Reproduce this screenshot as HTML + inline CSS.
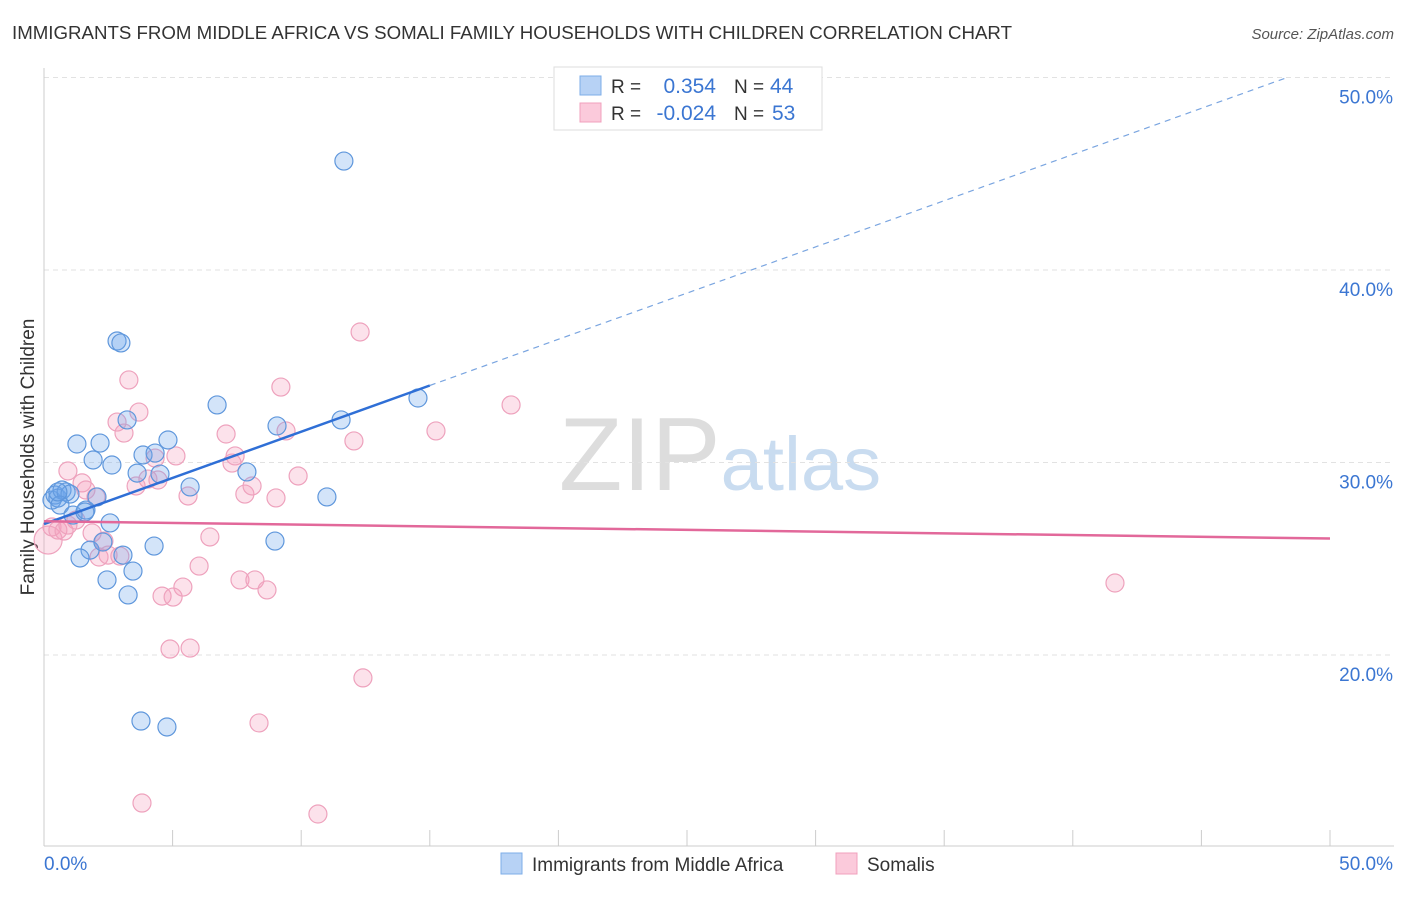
<!DOCTYPE html>
<html><head><meta charset="utf-8"><style>
body{margin:0;background:#fff;font-family:"Liberation Sans",sans-serif}
svg text{font-family:"Liberation Sans",sans-serif}
</style></head><body>
<svg id="chart" width="1406" height="892" viewBox="0 0 1406 892" xmlns="http://www.w3.org/2000/svg">
<text x="12" y="39" font-size="18" fill="#333" textLength="1000" lengthAdjust="spacingAndGlyphs">IMMIGRANTS FROM MIDDLE AFRICA VS SOMALI FAMILY HOUSEHOLDS WITH CHILDREN CORRELATION CHART</text>
<text x="1394" y="39" font-size="15" fill="#555" text-anchor="end" font-style="italic">Source: ZipAtlas.com</text>
<text x="720" y="490" font-size="104" fill="#ddd" text-anchor="middle" font-family="Liberation Serif">ZIP<tspan fill="#c9dcf0" font-family="Liberation Sans" font-size="76">atlas</tspan></text>
<text transform="translate(34,457) rotate(-90)" font-size="19" fill="#333" text-anchor="middle">Family Households with Children</text>
<g id="grid"></g><g id="axes"></g><g id="pts"></g><g id="trends"></g>
<g>
<rect x="554" y="67" width="268" height="63" fill="#fff" stroke="#ddd"/>
<rect x="580" y="76" width="21" height="19" fill="#b7d2f5" stroke="#7eaee8"/>
<rect x="580" y="103" width="21" height="19" fill="#fbcadb" stroke="#f0a0bd"/>
<text x="611" y="93" font-size="19" fill="#333">R =</text><text x="716" y="93" font-size="21" fill="#3b76d2" text-anchor="end">0.354</text>
<text x="734" y="93" font-size="19" fill="#333">N =</text><text x="770" y="93" font-size="21" fill="#3b76d2">44</text>
<text x="611" y="120" font-size="19" fill="#333">R =</text><text x="716" y="120" font-size="21" fill="#3b76d2" text-anchor="end">-0.024</text>
<text x="734" y="120" font-size="19" fill="#333">N =</text><text x="772" y="120" font-size="21" fill="#3b76d2">53</text>
</g>
<g>
<rect x="501" y="853" width="21" height="21" fill="#b7d2f5" stroke="#7eaee8"/>
<text x="532" y="871" font-size="19" fill="#333">Immigrants from Middle Africa</text>
<rect x="836" y="853" width="21" height="21" fill="#fbcadb" stroke="#f0a0bd"/>
<text x="867" y="871" font-size="19" fill="#333">Somalis</text>
</g>
</svg>
<script>
const yTicks=[20,30,40,50];
const yTickLabels=["20.0%","30.0%","40.0%","50.0%"];
const xTicks=[0,5,10,15,20,25,30,35,40,45,50];
const blueX=[0.31,0.43,0.54,0.70,0.86,1.01,0.62,1.13,1.63,1.28,1.91,2.18,2.64,2.84,2.99,3.23,3.62,3.85,4.32,4.51,4.82,5.68,6.73,7.89,9.06,11.55,14.54,11.0,8.98,4.28,2.57,1.79,1.40,2.29,3.07,2.45,3.46,3.27,3.77,4.78,11.66,2.06,0.54,1.59];
const blueY=[28.05,28.31,28.15,28.57,28.47,28.36,27.79,27.27,27.53,30.96,30.13,31.01,29.87,36.31,36.21,32.21,29.45,30.39,30.49,29.40,31.17,28.73,32.99,29.51,31.90,32.21,33.35,28.21,25.92,25.66,26.86,25.45,25.04,25.87,25.19,23.90,24.36,23.12,16.57,16.26,45.66,28.21,28.47,27.43];
const pinkX=[0.16,0.31,0.54,0.78,0.93,1.24,1.48,1.63,2.02,1.87,2.14,2.33,2.49,2.95,3.11,2.84,3.30,3.69,3.58,4.04,4.32,4.43,5.13,5.60,6.45,6.03,5.40,4.59,5.02,4.90,5.68,7.08,7.31,7.43,7.81,8.09,7.62,8.20,8.67,9.02,9.41,9.21,9.88,12.05,12.29,15.24,18.16,41.64,12.40,8.36,3.81,10.65,0.93];
const pinkY=[25.97,26.65,26.49,26.44,29.56,27.01,28.94,28.57,28.21,26.34,25.09,25.92,25.19,25.14,31.53,32.10,34.29,32.62,28.78,29.14,30.23,29.09,30.34,28.26,26.13,24.62,23.53,23.06,23.01,20.31,20.36,31.48,29.97,30.34,28.36,28.78,23.90,23.90,23.38,28.16,31.64,33.92,29.30,31.12,36.78,31.64,32.99,23.74,18.81,16.47,12.31,11.74,26.75];
const blueTrend=[26.8,0.48]; // intercept, slope
const pinkTrend=[26.95,-0.018];
const NS="http://www.w3.org/2000/svg";
const X=v=>44+v*25.72, Y=v=>77.5+(50-v)*19.25;
function mk(tag,attrs,parent){const e=document.createElementNS(NS,tag);for(const k in attrs)e.setAttribute(k,attrs[k]);parent.appendChild(e);return e;}
const grid=document.getElementById('grid'),axes=document.getElementById('axes');
yTicks.forEach((t,i)=>{
 const l=mk('line',{x1:44,x2:1394,y1:Y(t),y2:Y(t),stroke:'#e2e2e2','stroke-dasharray':'5,4'},grid);
 
 
 const tx=mk('text',{x:1393,y:Y(t)+26,'font-size':19,fill:'#3b76d2','text-anchor':'end'},axes);
 tx.textContent=yTickLabels[i];
 
 
});
const ya=mk('line',{x1:44,x2:44,y1:68,y2:846,stroke:'#ccc'},axes);


const xa=mk('line',{x1:44,x2:1394,y1:846,y2:846,stroke:'#ccc'},axes);


xTicks.forEach(t=>{
 const l=mk('line',{x1:X(t),x2:X(t),y1:830,y2:846,stroke:'#ccc'},axes);
 
 
});
[[0,'0.0%','start',44],[50,'50.0%','end',1393]].forEach(a=>{
 const tx=mk('text',{x:a[3],y:870,'font-size':19,fill:'#3b76d2','text-anchor':a[2]},axes);
 tx.textContent=a[1];
 
 
});
const pts=document.getElementById('pts');
pinkX.forEach((x,i)=>{
 const c=mk('circle',{cx:X(x),cy:Y(pinkY[i]),r:i==0?14:9,fill:'rgba(246,160,190,0.3)',stroke:'#eea2bd','stroke-width':1.2},pts);
 
 
});
blueX.forEach((x,i)=>{
 const c=mk('circle',{cx:X(x),cy:Y(blueY[i]),r:9,fill:'rgba(110,165,235,0.3)',stroke:'#5f97dc','stroke-width':1.2},pts);
 
 
});
const tr=document.getElementById('trends');
const bf=x=>blueTrend[0]+blueTrend[1]*x, pf=x=>pinkTrend[0]+pinkTrend[1]*x;
const b1=mk('line',{x1:X(0),y1:Y(bf(0)),x2:X(15),y2:Y(bf(15)),stroke:'#2f6fd6','stroke-width':2.5},tr);


const xe=(50-blueTrend[0])/blueTrend[1];
const b2=mk('line',{x1:X(15),y1:Y(bf(15)),x2:X(xe),y2:Y(50),stroke:'#7aa5e0','stroke-width':1.2,'stroke-dasharray':'6,5'},tr);


const p1=mk('line',{x1:X(0),y1:Y(pf(0)),x2:X(50),y2:Y(pf(50)),stroke:'#e2689a','stroke-width':2.5},tr);


</script>
</body></html>
